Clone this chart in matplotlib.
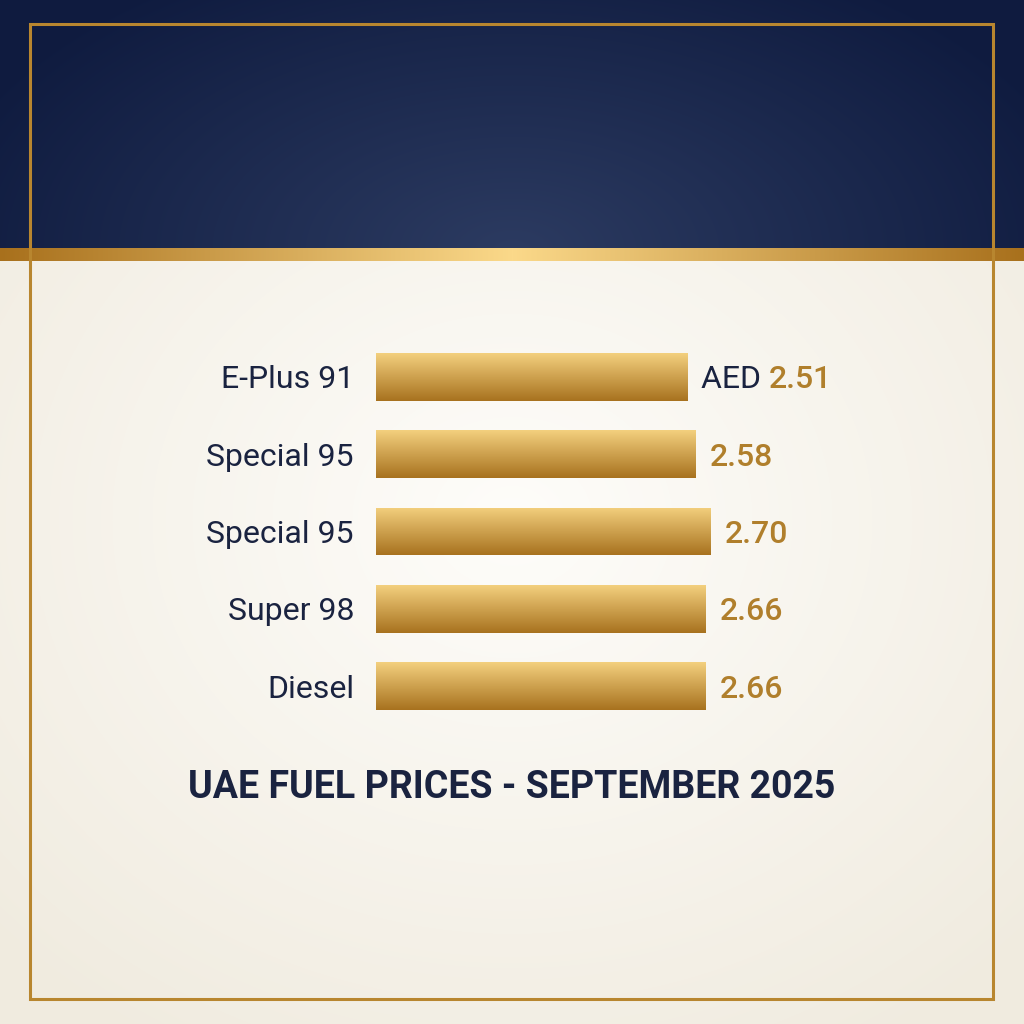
import numpy as np
import matplotlib.pyplot as plt
from matplotlib.patches import Rectangle

plt.rcParams['font.family'] = ['Roboto', 'DejaVu Sans']

# data
fuels = ['E-Plus 91', 'Special 95', 'Special 95', 'Super 98', 'Diesel']
prices = [2.51, 2.58, 2.70, 2.66, 2.66]
value_labels = ['2.51', '2.58', '2.70', '2.66', '2.66']
currency = 'AED'
title = 'UAE FUEL PRICES - SEPTEMBER 2025'

NAVY = '#1a2340'
GOLD_TXT = '#b07f2c'
FRAME = '#b8862f'

W = H = 1024
fig = plt.figure(figsize=(10.24, 10.24), dpi=100)

def hex2rgb(h):
    h = h.lstrip('#')
    return np.array([int(h[i:i+2], 16) / 255 for i in (0, 2, 4)])

# ---- background: navy header, gold band, cream body
bg = fig.add_axes([0, 0, 1, 1], zorder=0)
bg.set_xlim(0, W)
bg.set_ylim(H, 0)
bg.axis('off')

yy, xx = np.mgrid[0:H, 0:W]
# header radial gradient
r = np.sqrt(((xx - 512) / 600.0) ** 2 + ((yy - 250) / 330.0) ** 2)
r = np.clip(r, 0, 1)[..., None]
c_in, c_out = hex2rgb('#2c3b61'), hex2rgb('#0f1b3f')
header = c_in * (1 - r) + c_out * r
# body radial gradient
r2 = np.sqrt(((xx - 512) / 720.0) ** 2 + ((yy - 520) / 620.0) ** 2)
r2 = np.clip(r2, 0, 1)[..., None]
b_in, b_out = hex2rgb('#fefdfa'), hex2rgb('#f0ebdf')
body = b_in * (1 - r2) + b_out * r2
img = np.where((yy < 248)[..., None], header, body)
# gold band, horizontal gradient
band = (yy >= 248) & (yy < 261)
t = np.abs(xx - 512) / 512.0
g_in, g_out = hex2rgb('#fbd98a'), hex2rgb('#a8701c')
gold = g_in * (1 - t[..., None]) + g_out * t[..., None]
img = np.where(band[..., None], gold, img)
bg.imshow(img, extent=(0, W, H, 0), aspect='auto', interpolation='bilinear')

# frame
bg.add_patch(Rectangle((30, 24), 963, 975, fill=False, edgecolor=FRAME, linewidth=2.2))

# ---- bar chart
ax = fig.add_axes([376 / W, 1 - 725 / H, 420 / W, 387 / H], zorder=2)
ax.patch.set_alpha(0)
ax.axis('off')

ypos = np.arange(len(fuels))
bars = ax.barh(ypos, prices, height=0.62, color='none', edgecolor='none')

grad = np.linspace(0, 1, 64)[:, None]
top, bot = hex2rgb('#f3d07e'), hex2rgb('#a8721f')
bar_img = (top * (1 - grad[..., None]) + bot * grad[..., None]).repeat(4, axis=1)
for b in bars:
    x0, y0 = b.get_x(), b.get_y()
    im = ax.imshow(bar_img, extent=(x0, x0 + b.get_width(), y0 + b.get_height(), y0),
                   aspect='auto', interpolation='bilinear', zorder=1)
    im.set_clip_path(b)
ax.set_xlim(0, 420 / 124.0)
ax.set_ylim(len(fuels) - 0.5, -0.5)

for i, (name, p, lab) in enumerate(zip(fuels, prices, value_labels)):
    ax.annotate(name, xy=(0, i), xytext=(-22, 0), textcoords='offset pixels',
                ha='right', va='center_baseline', fontsize=23, color=NAVY)
    if i == 0:
        t_cur = ax.annotate(currency + ' ', xy=(p, i), xytext=(14, 0), textcoords='offset pixels',
                            ha='left', va='center_baseline', fontsize=23, color=NAVY)
        fig.canvas.draw()
        ext = t_cur.get_window_extent()
        ax.annotate(lab, xy=(p, i), xytext=(14 + ext.width, 0), textcoords='offset pixels',
                    ha='left', va='center_baseline', fontsize=23, color=GOLD_TXT,
                    fontweight='medium')
    else:
        ax.annotate(lab, xy=(p, i), xytext=(14, 0), textcoords='offset pixels',
                    ha='left', va='center_baseline', fontsize=23, color=GOLD_TXT,
                    fontweight='medium')

fig.text(0.5, 1 - 788 / H, title, ha='center', va='center', fontsize=27,
         fontweight='bold', color=NAVY)

fig.savefig('out.png', dpi=100)
